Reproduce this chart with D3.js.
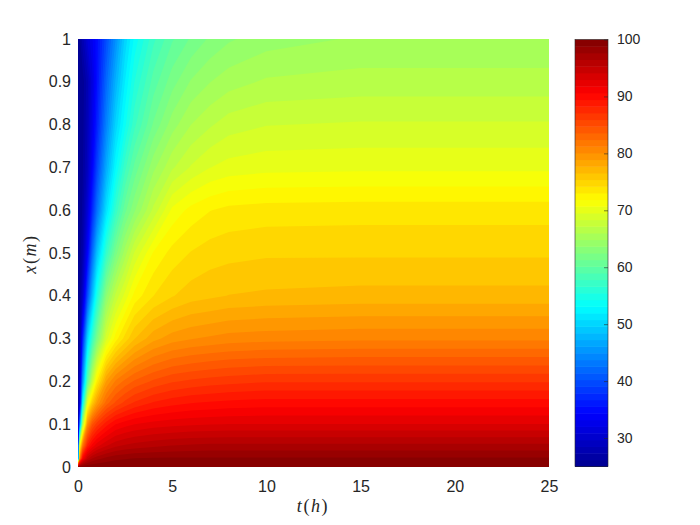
<!DOCTYPE html>
<html>
<head>
<meta charset="utf-8">
<script src="https://cdn.jsdelivr.net/npm/d3@7"></script>
<style>
    body { margin: 0; background: #fff; }
    text { font-family: "Liberation Sans", Arial, sans-serif; fill: #262626; }
</style>
</head>
<body>
<div id="chart"></div>
<script>
const width = 700, height = 525;

// Time (h) and position (m) of the table columns and rows
const times = [0, 0.1, 0.25, 0.5, 0.75, 1, 1.5, 2, 2.5, 3, 4, 5, 6, 7, 8, 10, 15, 25];
const positions = [0, 0.02, 0.05, 0.1, 0.15, 0.2, 0.3, 0.4, 0.5, 0.6, 0.7, 0.8, 0.9, 1];

// Temperature per position (rows) and time (columns)
const temperature = [
    [100, 100, 100, 100, 100, 100, 100, 100, 100, 100, 100, 100, 100, 100, 100, 100, 100, 100],
    [25, 82, 91, 95, 96.5, 97.2, 98, 98.5, 98.7, 98.9, 99, 99, 99, 99, 99, 99, 99, 99],
    [25, 72, 82, 88.5, 91, 92.5, 94, 95, 95.5, 95.8, 96.2, 96.5, 96.7, 96.8, 96.8, 96.8, 96.8, 96.8],
    [25, 45, 66, 80, 84.5, 86.5, 89, 90.6, 91.3, 91.8, 92.3, 92.6, 92.8, 92.9, 93, 93, 93, 93],
    [25, 32, 53, 70, 75.5, 79, 83, 85, 86.3, 87.3, 88.4, 89, 89.4, 89.6, 89.8, 90, 90, 90],
    [25, 31, 45, 60, 67.5, 73, 79, 81.5, 82.8, 83.8, 85, 85.8, 86.2, 86.5, 86.7, 87, 87, 87],
    [25, 27, 37, 50, 57, 62, 69, 72.5, 74.7, 76.5, 78.5, 79.5, 80, 80.3, 80.6, 80.8, 81, 81],
    [25, 26, 30, 40, 48, 55, 63.5, 67.5, 70, 72.3, 74.2, 75.3, 76, 76.3, 76.6, 76.8, 77, 77],
    [25, 25.5, 27.5, 34, 42, 48.5, 57, 62, 65.5, 68.5, 72, 73.5, 74.3, 74.8, 75, 75.2, 75.2, 75.2],
    [25, 25, 26.5, 31, 37, 42.5, 51, 57, 61, 63.5, 67.5, 71, 72.3, 73, 73.4, 73.6, 73.7, 73.7],
    [25, 25, 26, 29, 34, 39, 47, 53, 57.5, 60.5, 64.5, 67, 68.5, 69.5, 70, 70.3, 70.4, 70.4],
    [25, 25, 25.7, 28.5, 32.5, 36.5, 44, 50, 54, 57.5, 61.5, 64.3, 66, 67, 67.8, 68.3, 68.5, 68.5],
    [25, 25, 25.5, 28, 31.5, 35.3, 42, 47.5, 52, 55.5, 59.5, 62, 63.8, 64.8, 65.5, 66.2, 66.5, 66.5],
    [25, 26, 28, 31, 33, 35, 40, 45, 50, 53.5, 57.5, 60, 61.5, 62.7, 63.5, 64.3, 65, 65]
];

const xTicks = [0, 5, 10, 15, 20, 25];
const yTicks = [0, 0.1, 0.2, 0.3, 0.4, 0.5, 0.6, 0.7, 0.8, 0.9, 1];
const barTicks = [30, 40, 50, 60, 70, 80, 90, 100];
const colorDomain = [25, 100];
const levels = 64;

const svg = d3.select('#chart').append('svg')
    .attr('width', width)
    .attr('height', height)
    .style('display', 'block');

const x = d3.scaleLinear().domain([0, 25]).range([78, 549]);
const y = d3.scaleLinear().domain([0, 1]).range([467, 39]);
const barY = d3.scaleLinear().domain(colorDomain).range([466.5, 39.5]);

// Jet colormap cut into 64 flat steps like the MATLAB one
const jet = d3.scaleLinear()
    .domain([0, 0.125, 0.375, 0.625, 0.875, 1])
    .range(['#00008f', '#0000ff', '#00ffff', '#ffff00', '#ff0000', '#800000']);
const stepSize = (colorDomain[1] - colorDomain[0]) / levels;
const stepValues = d3.range(levels).map(i => colorDomain[0] + i * stepSize);
const stepColor = i => jet((i + 0.5) / levels);

// Contours come back in table coordinates, so map them through the t and x values
const toTime = d3.scaleLinear().domain(times.map((d, i) => i + 0.5)).range(times).clamp(true);
const toPos = d3.scaleLinear().domain(positions.map((d, i) => i + 0.5)).range(positions).clamp(true);
const tablePath = d3.geoPath(d3.geoTransform({
    point(px, py) {
        this.stream.point(x(toTime(px)), y(toPos(py)));
    }
}));

const contours = d3.contours()
    .size([times.length, positions.length])
    .thresholds(stepValues);

svg.append('g')
    .selectAll('path')
    .data(contours(temperature.flat()))
    .enter()
    .append('path')
    .attr('d', tablePath)
    .attr('fill', (d, i) => stepColor(i));

// X Axis
const xAxis = svg.append('g')
    .attr('transform', 'translate(0,467)')
    .call(d3.axisBottom(x).tickValues(xTicks).tickSize(0).tickPadding(14).tickFormat(d3.format('d')));
xAxis.select('.domain').remove();
xAxis.selectAll('text').style('font-size', '16px');

// Y Axis
const yAxis = svg.append('g')
    .attr('transform', 'translate(78,0)')
    .call(d3.axisLeft(y).tickValues(yTicks).tickSize(0).tickPadding(7).tickFormat(d3.format('')));
yAxis.select('.domain').remove();
yAxis.selectAll('text').style('font-size', '16px');

// Colorbar
const barX = 575, barWidth = 33;
svg.append('g')
    .selectAll('rect')
    .data(stepValues)
    .enter()
    .append('rect')
    .attr('x', barX)
    .attr('y', d => barY(d + stepSize))
    .attr('width', barWidth)
    .attr('height', d => barY(d) - barY(d + stepSize) + 0.5)
    .attr('fill', (d, i) => stepColor(i));

svg.append('rect')
    .attr('x', barX)
    .attr('y', 39.5)
    .attr('width', barWidth)
    .attr('height', 427)
    .attr('fill', 'none')
    .attr('stroke', '#262626')
    .attr('stroke-width', 0.6);

const barAxis = svg.append('g')
    .attr('transform', `translate(${barX + barWidth},0)`)
    .call(d3.axisRight(barY).tickValues(barTicks).tickSize(-4).tickPadding(9));
barAxis.select('.domain').remove();
barAxis.selectAll('line').attr('stroke', '#262626').attr('stroke-width', 0.6);
barAxis.selectAll('text').style('font-size', '14px');

// Labels, set like the LaTeX ones
function mathLabel(sel, variable, unit) {
    sel.attr('text-anchor', 'middle')
        .style('font-family', '"Liberation Serif", serif')
        .style('font-size', '18px')
        .style('letter-spacing', '1.6px');
    sel.append('tspan').style('font-style', 'italic').text(variable);
    sel.append('tspan').text('(');
    sel.append('tspan').style('font-style', 'italic').text(unit);
    sel.append('tspan').text(')');
}

svg.append('text')
    .attr('x', 313)
    .attr('y', 512)
    .call(mathLabel, 't', 'h');

svg.append('text')
    .attr('transform', 'translate(36,254) rotate(-90)')
    .call(mathLabel, 'x', 'm');
</script>
</body>
</html>
